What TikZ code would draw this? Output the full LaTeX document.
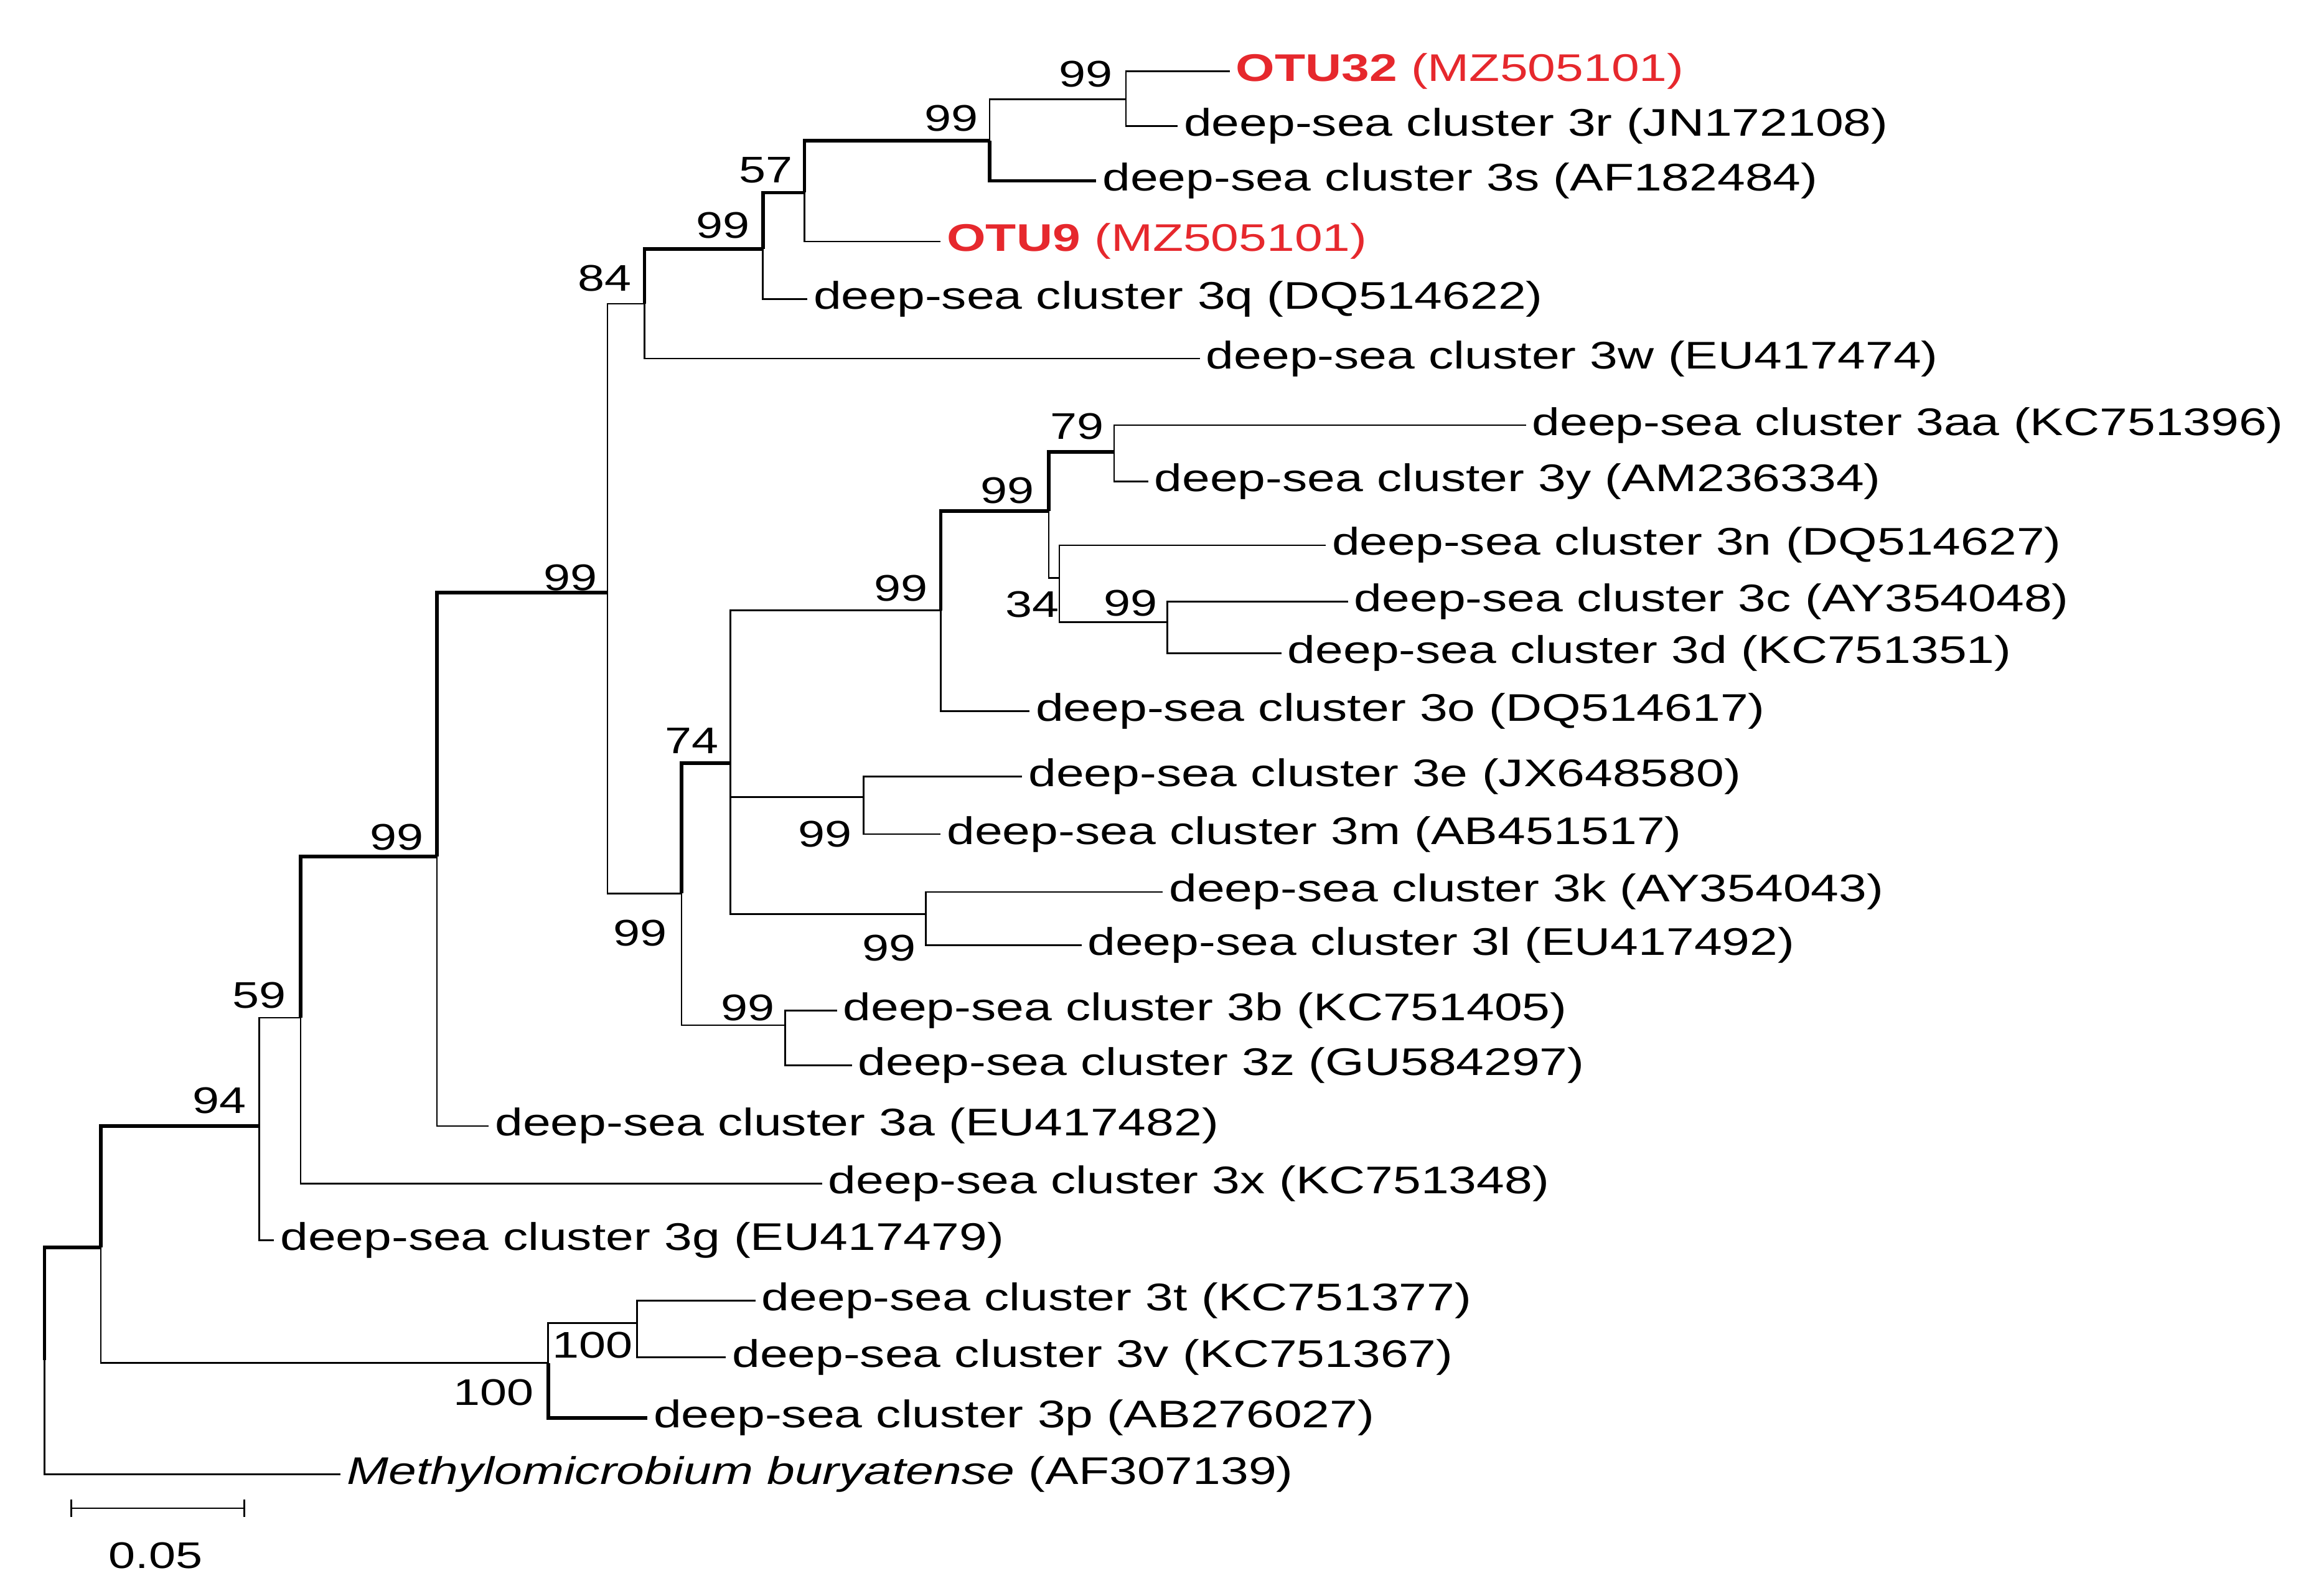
\documentclass[tikz,border=0pt]{standalone}
\usepackage{fontspec}
\setmainfont{Liberation Sans}[FakeStretch=1.3]
\definecolor{OTURED}{RGB}{230,40,45}
\tikzset{
  branch/.style={black, line width=1.1},
  strong/.style={black, line width=2.4},
  leaf/.style={anchor=west, inner sep=4pt, font=\fontsize{26}{29}\selectfont},
  boot/.style={inner sep=0pt, font=\fontsize{25}{28}\selectfont},
}
\begin{document}
\begin{tikzpicture}[x=1pt,y=-1pt]
\useasboundingbox (0,0) rectangle (1560,1077);

% internal nodes
\coordinate (root) at (30,842);
\coordinate (nA) at (68,842);
\coordinate (nB) at (370,920);
\coordinate (nC) at (430,893);
\coordinate (nD) at (175,760);
\coordinate (nE) at (203,687);
\coordinate (nF) at (295,578);
\coordinate (nG) at (410,400);
\coordinate (nH) at (435,205);
\coordinate (nI) at (515,168);
\coordinate (nJ) at (543,130);
\coordinate (nK) at (668,95);
\coordinate (nL) at (760,67);
\coordinate (nM) at (460,603);
\coordinate (nN) at (530,692);
\coordinate (nO) at (493,515);
\coordinate (nP) at (583,538);
\coordinate (nQ) at (625,617);
\coordinate (nR) at (635,412);
\coordinate (nS) at (708,345);
\coordinate (nT) at (752,305);
\coordinate (nU) at (715,390);
\coordinate (nV) at (788,420);

% leaves
\node[leaf] (otu32) at (830,48) {\textcolor{OTURED}{\textbf{OTU32} (MZ505101)}};
\node[leaf] (c3r) at (795,85) {deep-sea cluster 3r (JN172108)};
\node[leaf] (c3s) at (740,122) {deep-sea cluster 3s (AF182484)};
\node[leaf] (otu9) at (635,163) {\textcolor{OTURED}{\textbf{OTU9} (MZ505101)}};
\node[leaf] (c3q) at (545,202) {deep-sea cluster 3q (DQ514622)};
\node[leaf] (c3w) at (810,242) {deep-sea cluster 3w (EU417474)};
\node[leaf] (c3aa) at (1030,287) {deep-sea cluster 3aa (KC751396)};
\node[leaf] (c3y) at (775,325) {deep-sea cluster 3y (AM236334)};
\node[leaf] (c3n) at (895,368) {deep-sea cluster 3n (DQ514627)};
\node[leaf] (c3c) at (910,406) {deep-sea cluster 3c (AY354048)};
\node[leaf] (c3d) at (865,441) {deep-sea cluster 3d (KC751351)};
\node[leaf] (c3o) at (695,480) {deep-sea cluster 3o (DQ514617)};
\node[leaf] (c3e) at (690,524) {deep-sea cluster 3e (JX648580)};
\node[leaf] (c3m) at (635,563) {deep-sea cluster 3m (AB451517)};
\node[leaf] (c3k) at (785,602) {deep-sea cluster 3k (AY354043)};
\node[leaf] (c3l) at (730,638) {deep-sea cluster 3l (EU417492)};
\node[leaf] (c3b) at (565,682) {deep-sea cluster 3b (KC751405)};
\node[leaf] (c3z) at (575,719) {deep-sea cluster 3z (GU584297)};
\node[leaf] (c3a) at (330,760) {deep-sea cluster 3a (EU417482)};
\node[leaf] (c3x) at (555,799) {deep-sea cluster 3x (KC751348)};
\node[leaf] (c3g) at (185,837) {deep-sea cluster 3g (EU417479)};
\node[leaf] (c3t) at (510,878) {deep-sea cluster 3t (KC751377)};
\node[leaf] (c3v) at (490,916) {deep-sea cluster 3v (KC751367)};
\node[leaf] (c3p) at (437,957) {deep-sea cluster 3p (AB276027)};
\node[leaf] (meth) at (230,995) {\textit{Methylomicrobium buryatense} (AF307139)};

% branches
\coordinate (rootmid) at (30,918);
\draw[strong] (nA) -- (root) -- (rootmid);
\draw[branch] (rootmid) |- (meth.west);
\draw[strong] (nA) |- (nD);
\draw[branch] (nA) |- (nB);
\draw[branch] (nB) |- (nC);
\draw[strong] (nB) |- (c3p.west);
\draw[branch] (nC) |- (c3t.west);
\draw[branch] (nC) |- (c3v.west);
\draw[branch] (nD) |- (nE);
\draw[branch] (nD) |- (c3g.west);
\draw[strong] (nE) |- (nF);
\draw[branch] (nE) |- (c3x.west);
\draw[strong] (nF) |- (nG);
\draw[branch] (nF) |- (c3a.west);
\draw[branch] (nG) |- (nH);
\draw[branch] (nG) |- (nM);
\draw[strong] (nH) |- (nI);
\draw[branch] (nH) |- (c3w.west);
\draw[strong] (nI) |- (nJ);
\draw[branch] (nI) |- (c3q.west);
\draw[strong] (nJ) |- (nK);
\draw[branch] (nJ) |- (otu9.west);
\draw[branch] (nK) |- (nL);
\draw[strong] (nK) |- (c3s.west);
\draw[branch] (nL) |- (otu32.west);
\draw[branch] (nL) |- (c3r.west);
\draw[strong] (nM) |- (nO);
\draw[branch] (nM) |- (nN);
\draw[branch] (nN) |- (c3b.west);
\draw[branch] (nN) |- (c3z.west);
\draw[branch] (nO) |- (nR);
\draw[branch] (nO) |- (nP);
\draw[branch] (nO) |- (nQ);
\draw[branch] (nP) |- (c3e.west);
\draw[branch] (nP) |- (c3m.west);
\draw[branch] (nQ) |- (c3k.west);
\draw[branch] (nQ) |- (c3l.west);
\draw[strong] (nR) |- (nS);
\draw[branch] (nR) |- (c3o.west);
\draw[strong] (nS) |- (nT);
\draw[branch] (nS) |- (nU);
\draw[branch] (nT) |- (c3aa.west);
\draw[branch] (nT) |- (c3y.west);
\draw[branch] (nU) |- (c3n.west);
\draw[branch] (nU) |- (nV);
\draw[branch] (nV) |- (c3c.west);
\draw[branch] (nV) |- (c3d.west);

% bootstrap values
\node[boot] at (733,50) {99};
\node[boot] at (642,80) {99};
\node[boot] at (517,115) {57};
\node[boot] at (488,152) {99};
\node[boot] at (408,188) {84};
\node[boot] at (385,390) {99};
\node[boot] at (727,288) {79};
\node[boot] at (680,331) {99};
\node[boot] at (608,397) {99};
\node[boot] at (697,408) {34};
\node[boot] at (763,407) {99};
\node[boot] at (467,500) {74};
\node[boot] at (557,563) {99};
\node[boot] at (600,640) {99};
\node[boot] at (432,630) {99};
\node[boot] at (505,680) {99};
\node[boot] at (268,565) {99};
\node[boot] at (175,672) {59};
\node[boot] at (148,743) {94};
\node[boot] at (400,908) {100};
\node[boot] at (333,940) {100};

% scale bar
\coordinate (s0) at (48,1018);
\coordinate (s1) at (165,1018);
\draw[branch] (s0) -- (s1);
\draw[branch] ([yshift=-6]s0) -- ([yshift=6]s0);
\draw[branch] ([yshift=-6]s1) -- ([yshift=6]s1);
\node[boot] (scale) at (105,1050) {0.05};
\end{tikzpicture}
\end{document}
